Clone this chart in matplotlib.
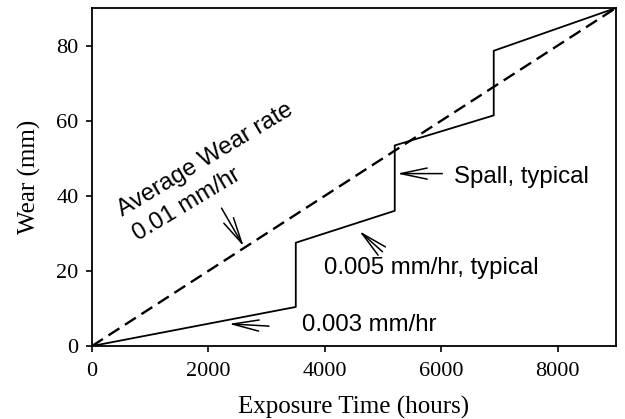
import numpy as np
import matplotlib
matplotlib.use("Agg")
import matplotlib.pyplot as plt

# data
hours = [0, 3500, 3500, 5200, 5200, 6900, 6900, 9000]
wear = [0, 10.4, 27.5, 36.0, 53.4, 61.4, 78.6, 90.0]
avg_hours = [0, 9000]
avg_wear = [0, 90]

xticks = [0, 2000, 4000, 6000, 8000]
yticks = [0, 20, 40, 60, 80]

serif = ["Liberation Serif", "DejaVu Serif"]
sans = ["Liberation Sans", "DejaVu Sans"]

fig = plt.figure(figsize=(6.25, 4.19), dpi=100)
ax = fig.add_axes([0.1472, 0.1742, 0.8384, 0.8068])

ax.plot(hours, wear, color="black", lw=1.3)
dash, = ax.plot(avg_hours, avg_wear, color="black", lw=1.7)
dash.set_dashes([5.5, 2.8])

ax.set_xlim(0, 9000)
ax.set_ylim(0, 90)
ax.set_xticks(xticks)
ax.set_yticks(yticks)
ax.tick_params(direction="out", length=4.3, width=1.2, labelsize=16,
               top=False, right=False)
ax.tick_params(axis="x", pad=7)
ax.tick_params(axis="y", pad=5.5)
for lab in ax.get_xticklabels() + ax.get_yticklabels():
    lab.set_family(serif)
for s in ax.spines.values():
    s.set_linewidth(1.3)

ax.set_xlabel("Exposure Time (hours)", family=serif, fontsize=18, labelpad=11)
ax.set_ylabel("Wear (mm)", family=serif, fontsize=18, labelpad=11)

# annotations
tsize = 17.3
ax.text(1954, 49.6, "Average Wear rate", family=sans, fontsize=tsize,
        rotation=31, ha="center", va="center", rotation_mode="anchor")
ax.text(1630, 37.6, "0.01 mm/hr", family=sans, fontsize=tsize,
        rotation=31, ha="center", va="center", rotation_mode="anchor")
ax.text(6223, 45.0, "Spall, typical", family=sans, fontsize=tsize,
        ha="left", va="center")
ax.text(3977, 20.8, "0.005 mm/hr, typical", family=sans, fontsize=tsize,
        ha="left", va="center")
ax.text(3600, 5.6, "0.003 mm/hr", family=sans, fontsize=tsize,
        ha="left", va="center")

aprops = dict(arrowstyle="->,head_length=1.9,head_width=0.4",
              mutation_scale=10, color="black", lw=1.1,
              shrinkA=0, shrinkB=0)
arrows = [
    ((2225, 36.7), (2606, 26.5)),
    ((6017, 45.9), (5240, 45.9)),
    ((4990, 25.1), (4590, 30.6)),
    ((3040, 5.3), (2350, 5.9)),
]
for tail, head in arrows:
    ax.annotate("", xy=head, xytext=tail, arrowprops=aprops)

fig.savefig("out.png", dpi=100)
